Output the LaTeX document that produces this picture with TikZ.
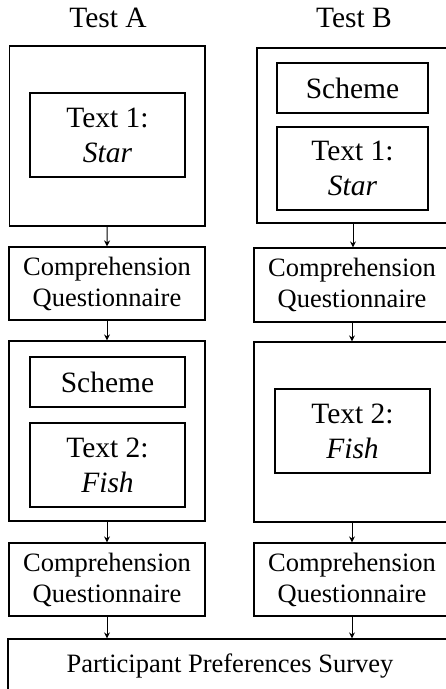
\documentclass[tikz,border=0pt]{standalone}
\usepackage{fontspec}
\setmainfont{Liberation Serif}
\usetikzlibrary{arrows.meta,calc}
\begin{document}
\begin{tikzpicture}[x=1pt,y=-1pt,
  box/.style={draw,line width=1.2pt,inner sep=0pt,align=center},
  big/.style={font=\fontsize{29.5}{35}\selectfont},
  small/.style={font=\fontsize{26.5}{31}\selectfont},
  arr/.style={line width=1pt,-{Stealth[length=6pt,width=6pt]}}]
\useasboundingbox (0,0) rectangle (446,689);
% titles
\node[big,anchor=base] (titleA) at (108,27) {Test A};
\node[big,anchor=base] (titleB) at (354,27) {Test B};
% Test A
\node[box,minimum width=195.5pt,minimum height=180pt] (outerA1) at (107.25,136) {};
\node[box,big,minimum width=155pt,minimum height=84pt] (text1A) at (107.5,135) {Text 1:\\\textit{Star}};
\node[box,small,minimum width=196pt,minimum height=73pt] (compA1) at (107,283.5) {Comprehension\\Questionnaire};
\node[box,minimum width=196pt,minimum height=180pt] (outerA2) at (107,431) {};
\node[box,big,minimum width=155pt,minimum height=50pt] (schemeA) at (107.5,382) {Scheme};
\node[box,big,minimum width=155pt,minimum height=84pt] (text2A) at (107.5,465) {Text 2:\\\textit{Fish}};
\node[box,small,minimum width=196pt,minimum height=73pt] (compA2) at (107,579.5) {Comprehension\\Questionnaire};
% Test B
\node[box,minimum width=192pt,minimum height=175pt] (outerB1) at (353,135.5) {};
\node[box,big,minimum width=151pt,minimum height=50pt] (schemeB) at (352.5,88) {Scheme};
\node[box,big,minimum width=151pt,minimum height=83pt] (text1B) at (352.5,168.5) {Text 1:\\\textit{Star}};
\node[box,small,minimum width=196pt,minimum height=74pt] (compB1) at (352,285) {Comprehension\\Questionnaire};
\node[box,minimum width=196pt,minimum height=180pt] (outerB2) at (352,432) {};
\node[box,big,minimum width=155pt,minimum height=84pt] (text2B) at (352.5,431) {Text 2:\\\textit{Fish}};
\node[box,small,minimum width=196pt,minimum height=73pt] (compB2) at (352,579.5) {Comprehension\\Questionnaire};
% survey
\node[box,small,minimum width=444pt,minimum height=54pt] (survey) at (230,666) {Participant Preferences Survey};
% arrows
\draw[arr] (outerA1.south) -- (compA1.north);
\draw[arr] (compA1.south) -- (outerA2.north);
\draw[arr] (outerA2.south) -- (compA2.north);
\draw[arr] (compA2.south) -- (compA2.south |- survey.north);
\draw[arr] (outerB1.south) -- (outerB1.south |- compB1.north);
\draw[arr] (compB1.south) -- (compB1.south |- outerB2.north);
\draw[arr] (outerB2.south) -- (outerB2.south |- compB2.north);
\draw[arr] (compB2.south) -- (compB2.south |- survey.north);
\end{tikzpicture}
\end{document}
